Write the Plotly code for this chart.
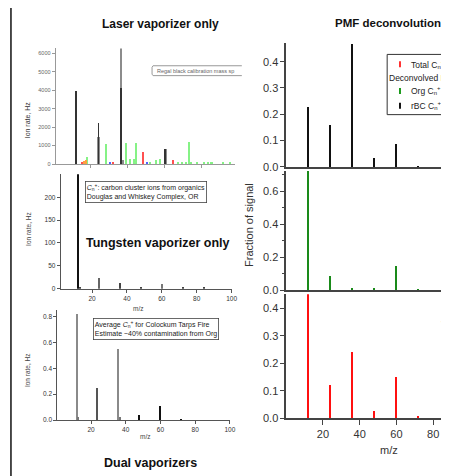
import plotly.graph_objects as go

W, H = 449, 476

# ---------------- data ----------------
# Laser vaporizer only (Regal black calibration)
laser_grey_mz = [24, 36, 37, 48, 60]
laser_grey_val = [1450, 6300, 200, 580, 800]
laser_black_mz = [12, 24, 36, 60]
laser_black_val = [3950, 2200, 4100, 780]
laser_green_mz = [18, 28, 39, 41, 43, 44, 52, 55, 57, 67, 69, 71, 73, 74, 77, 81, 83, 85, 91, 95]
laser_green_val = [380, 1050, 1100, 250, 250, 1100, 60, 200, 250, 50, 80, 80, 1150, 90, 50, 40, 40, 30, 40, 30]
laser_orange_mz = [16, 17]
laser_orange_val = [120, 200]
laser_red_mz = [15, 32, 48, 64]
laser_red_val = [60, 80, 620, 200]
laser_blue_mz = [30, 50]
laser_blue_val = [100, 50]

# Tungsten vaporizer only
tung_mz = [12, 13, 24, 36, 48, 60, 72, 84]
tung_val = [300, 4, 24, 13, 4, 10, 2, 1.5]
tung_col = ["#111", "#444", "#666", "#444", "#444", "#777", "#444", "#444"]

# Dual vaporizers
dual_mz = [12, 13, 24, 36, 37, 48, 60, 72]
dual_val = [0.82, 0.02, 0.25, 0.55, 0.02, 0.04, 0.11, 0.005]
dual_col = ["#8a8a8a", "#777", "#555", "#8a8a8a", "#777", "#111", "#111", "#111"]

# PMF deconvolution
pmf_mz = [12, 24, 36, 48, 60, 72]
pmf_rbc = [0.23, 0.16, 0.47, 0.035, 0.09, 0.005]
pmf_org = [0.75, 0.09, 0.015, 0.015, 0.145, 0.008]
pmf_total = [0.46, 0.12, 0.24, 0.025, 0.148, 0.007]


def px(x):
    return x / W


def py(y):
    return 1 - y / H


fig = go.Figure()


def bar(x, y, color, width, ax):
    fig.add_trace(go.Bar(x=x, y=y, width=width, marker=dict(color=color, line=dict(width=0)),
                         xaxis="x" + ax, yaxis="y" + ax, showlegend=False))


bar(laser_grey_mz, laser_grey_val, "#8c8c8c", 1.4, "")
bar(laser_black_mz, laser_black_val, "#333", 0.45, "")
bar(laser_green_mz, laser_green_val, "#86f286", 1.1, "")
bar(laser_orange_mz, laser_orange_val, "#ffa040", 1.1, "")
bar(laser_red_mz, laser_red_val, "#ff5050", 1.1, "")
bar(laser_blue_mz, laser_blue_val, "#5060ff", 1.1, "")

bar(tung_mz, tung_val, tung_col, 0.6, "2")
bar(dual_mz, dual_val, dual_col, 0.9, "3")

bar(pmf_mz, pmf_rbc, "#111", 1.05, "4")
bar(pmf_mz, pmf_org, "#1a8a1a", 1.05, "5")
bar(pmf_mz, pmf_total, "#ff1010", 1.05, "6")

FONT = "Arial, Liberation Sans, sans-serif"

left_axis = dict(showline=True, linecolor="#555", linewidth=1, ticks="outside", ticklen=3,
                 tickcolor="#555", showgrid=False, zeroline=False,
                 tickfont=dict(size=6.5, color="#333", family=FONT))
right_axis = dict(showline=True, linecolor="#444", linewidth=1.5, ticks="outside", ticklen=4,
                  tickcolor="#444", showgrid=False, zeroline=False,
                  tickfont=dict(size=11, color="#333", family=FONT))

layout = dict(
    width=W, height=H, autosize=False, margin=dict(l=0, r=0, t=0, b=0),
    paper_bgcolor="white", plot_bgcolor="white", barmode="overlay", bargap=0,
    font=dict(family=FONT, size=10),
    xaxis=dict(left_axis, domain=[px(48.3), px(230.3)], range=[1, 98], tickvals=[20, 40, 60, 80],
               showticklabels=False, linecolor="#999", tickcolor="#999", anchor="y"),
    yaxis=dict(left_axis, domain=[py(158), py(41)], range=[0, 6260], tickvals=[0, 1000, 2000, 3000, 4000, 5000, 6000],
               tickfont=dict(size=5.5, color="#666", family=FONT), linecolor="#999", tickcolor="#999", anchor="x"),
    xaxis2=dict(left_axis, domain=[px(53.4), px(226.6)], range=[2, 100], tickvals=[20, 40, 60, 80, 100], anchor="y2"),
    yaxis2=dict(left_axis, domain=[py(284.3), py(168.3)], range=[0, 250.5], tickvals=[0, 50, 100, 150, 200], anchor="x2"),
    xaxis3=dict(left_axis, domain=[px(50), px(224.9)], range=[0.6, 100], tickvals=[20, 40, 60, 80, 100], anchor="y3"),
    yaxis3=dict(left_axis, domain=[py(417.3), py(306)], range=[0, 0.85], tickvals=[0, 0.2, 0.4, 0.6, 0.8],
                tickformat=".1f", anchor="x3"),
    xaxis4=dict(right_axis, domain=[px(282), px(440.3)], range=[0, 85], ticks="", showticklabels=False, anchor="y4"),
    yaxis4=dict(right_axis, domain=[py(161), py(35)], range=[0, 0.4725], dtick=0.1, tickformat=".1f", anchor="x4"),
    xaxis5=dict(right_axis, domain=[px(282), px(440.3)], range=[0, 85], ticks="", showticklabels=False, anchor="y5"),
    yaxis5=dict(right_axis, domain=[py(286), py(165)], range=[0, 0.722], dtick=0.2, tickformat=".1f", anchor="x5",
                minor=dict(ticks="outside", ticklen=2, dtick=0.1, tickcolor="#444")),
    xaxis6=dict(right_axis, domain=[px(282), px(440.3)], range=[0, 85], tickvals=[20, 40, 60, 80], ticklen=5, anchor="y6"),
    yaxis6=dict(right_axis, domain=[py(415.3), py(290)], range=[0, 0.4515], dtick=0.1, tickformat=".1f", anchor="x6"),
)
fig.update_layout(**layout)

ann = []


def text(x, y, s, size, color="#222", bold=False, angle=0, xanchor="center", **kw):
    if bold:
        s = "<b>" + s + "</b>"
    ann.append(dict(x=px(x), y=py(y), xref="paper", yref="paper", text=s, showarrow=False,
                    font=dict(size=size, color=color, family=FONT), textangle=angle,
                    xanchor=xanchor, yanchor="middle", **kw))


# Titles
text(155, 16, "Laser vaporizer only", 12, "#111", bold=True)
text(152, 238, "Tungsten vaporizer only", 12.5, "#111", bold=True)
text(144, 461, "Dual vaporizers", 12.5, "#111", bold=True)
text(385.5, 15, "PMF deconvolution", 11.5, "#111", bold=True)

# Axis titles
text(20, 113, "Ion rate, Hz", 7, "#333", angle=-90)
text(20, 224, "Ion rate, Hz", 6.5, "#444", angle=-90)
text(20, 367, "Ion rate, Hz", 6.5, "#444", angle=-90)
text(132, 304, "m/z", 6.5, "#444")
text(139, 434, "m/z", 6.5, "#444")
text(245, 220, "Fraction of signal", 11, "#333", angle=-90)
text(386, 448, "m/z", 11, "#333")
text(442, 345, "Mass Loading (µg m<sup>-3</sup>)", 6, "#aaa", angle=-90)

# Boxes on left
text(149, 63.5, "Regal black calibration mass sp", 5.5, "#666", xanchor="left")
text(78, 186, "<i>C</i><sub>n</sub><sup>+</sup>: carbon cluster ions from organics<br>Douglas and Whiskey Complex, OR",
     7, "#222", xanchor="left", align="left", bordercolor="#444", borderwidth=0.8, borderpad=1, bgcolor="white")
text(86, 325.5, "Average <i>C</i><sub>n</sub><sup>+</sup> for Colockum Tarps Fire<br>Estimate ~40% contamination from Org",
     7, "#222", xanchor="left", align="left", bordercolor="#444", borderwidth=0.8, borderpad=1, bgcolor="white")

# PMF legend text (cut by the picture edge in the reference)
text(407.5, 57, "Total C<sub>n</sub><sup>+</sup> (", 8.5, "#222", xanchor="left", borderpad=0)
text(385.5, 70.7, "Deconvolved P", 8.5, "#222", xanchor="left", borderpad=0)
text(407.5, 84, "Org C<sub>n</sub><sup>+</sup> s", 8.5, "#222", xanchor="left", borderpad=0)
text(407.5, 99, "rBC C<sub>n</sub><sup>+</sup> s", 8.5, "#222", xanchor="left", borderpad=0)

fig.update_layout(annotations=ann)

shapes = []
# left frame line
shapes.append(dict(type="line", xref="paper", yref="paper", x0=px(3), x1=px(3), y0=0, y1=1,
                   line=dict(color="#111", width=1.5)))
# Regal box (clipped on right)
shapes.append(dict(type="path", xref="paper", yref="paper",
                   path=f"M {px(237)} {py(58.5)} L {px(147)} {py(58.5)} L {px(146)} {py(60)} L {px(146)} {py(67)} "
                        f"L {px(147)} {py(68.5)} L {px(237)} {py(68.5)}",
                   line=dict(color="#999", width=1)))
# PMF legend box
shapes.append(dict(type="path", xref="paper", yref="paper",
                   path=f"M {px(452)} {py(47)} L {px(384.3)} {py(47)} L {px(384.3)} {py(108)} L {px(452)} {py(108)}",
                   line=dict(color="#333", width=1)))
# legend markers
for yy, col in [(57, "#ff3030"), (84, "#1a9a1a"), (99, "#111")]:
    shapes.append(dict(type="rect", xref="paper", yref="paper", x0=px(396.3), x1=px(398.3),
                       y0=py(yy + 3), y1=py(yy - 3), fillcolor=col, line=dict(width=0)))
fig.update_layout(shapes=shapes)

fig.write_html("out.html")
